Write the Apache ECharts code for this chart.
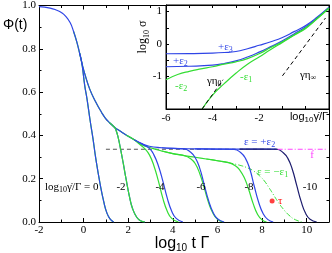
<!DOCTYPE html>
<html><head><meta charset="utf-8">
<script src="https://cdn.jsdelivr.net/npm/echarts@6/dist/echarts.min.js"></script>
<style>html,body{margin:0;padding:0;background:#fff}#c{width:332px;height:253px}</style>
</head><body><div id="c"></div>
<script>
// ---------- main panel data: [log10 tΓ, Φ(t)] ----------
const shortTime = [[-2,0.995],[-1.5,0.988],[-1.2,0.978],[-1,0.968],[-0.8,0.95],[-0.6,0.92],[-0.45,0.88],[-0.3,0.83],[-0.18,0.78],[-0.08,0.735]];
const upperBranch = [[0.05,0.685],[0.27,0.615],[0.55,0.553],[0.8,0.507],[0.98,0.479],[1.16,0.459],[1.38,0.438],[1.65,0.419],[1.92,0.401],[2.27,0.38]];
const glassPlateau = [[2.6,0.362],[2.94,0.35],[3.5,0.343],[4.0,0.34],[5.0,0.338],[6.0,0.337],[7.0,0.337],[8.0,0.337],[8.65,0.337]];
const liquidPlateau = [[2.6,0.357],[3.0,0.343],[3.5,0.328],[4.0,0.316],[4.5,0.307],[5.0,0.299],[5.5,0.291],[6.0,0.283],[6.5,0.274]];
const liquidAlpha = [[6.5,0.274],[7.0,0.262],[7.3,0.252],[7.6,0.237],[7.9,0.212],[8.1,0.19],[8.3,0.16],[8.5,0.128],[8.7,0.095],[8.95,0.06],[9.2,0.032],[9.5,0.01],[9.8,0.0]];
const drop0 = [[0.05,0.63],[0.15,0.57],[0.29,0.47],[0.42,0.385],[0.55,0.29],[0.74,0.175],[0.9,0.095],[1.05,0.04],[1.2,0.012],[1.35,0.0]];
const drop2 = [[1.45,0.425],[1.55,0.39],[1.65,0.34],[1.77,0.275],[1.9,0.2],[2.05,0.12],[2.2,0.06],[2.38,0.022],[2.55,0.006],[2.75,0.0]];
const dropBlue4 = [[2.7,0.356],[2.95,0.34],[3.15,0.31],[3.35,0.26],[3.55,0.19],[3.75,0.11],[3.95,0.05],[4.15,0.017],[4.45,0.0]];
const dropGreen4 = [[2.5,0.36],[2.75,0.338],[2.95,0.31],[3.15,0.26],[3.35,0.19],[3.55,0.11],[3.75,0.05],[3.95,0.017],[4.25,0.0]];
const dropBlue6 = [[4.5,0.338],[4.8,0.322],[5.0,0.298],[5.2,0.25],[5.4,0.175],[5.6,0.1],[5.8,0.045],[6.0,0.015],[6.3,0.0]];
const dropGreen6 = [[4.5,0.307],[4.8,0.292],[5.0,0.27],[5.2,0.225],[5.4,0.16],[5.6,0.09],[5.8,0.04],[6.0,0.012],[6.25,0.0]];
const dropBlue8 = [[6.75,0.335],[7.05,0.32],[7.25,0.295],[7.45,0.245],[7.65,0.165],[7.85,0.09],[8.05,0.038],[8.25,0.012],[8.5,0.0]];
const dropGreen8 = [[6.5,0.274],[6.8,0.26],[7.0,0.24],[7.2,0.205],[7.4,0.15],[7.6,0.085],[7.8,0.035],[8.0,0.01],[8.2,0.0]];
const dropBlue10 = [[8.65,0.336],[8.95,0.32],[9.15,0.295],[9.35,0.245],[9.55,0.17],[9.75,0.095],[9.95,0.04],[10.15,0.013],[10.45,0.0]];
const plateauF = [[1.0,0.336],[8.7,0.336]];
const plateauFext = [[8.7,0.336],[10.9,0.336]];
const tauPoint = [[8.45,0.097]];

// ---------- inset data: [log10 γ̇/Γ, log10 σ] ----------
const insetEps3 = [[-6,-0.3],[-5,-0.295],[-4,-0.28],[-3.5,-0.262],[-3,-0.23],[-2.5,-0.145],[-2,-0.04],[-1.5,0.07],[-1,0.2],[-0.5,0.38],[0,0.57],[0.5,0.83],[1,1.13]];
const insetEps2 = [[-6,-0.7],[-5,-0.685],[-4,-0.65],[-3.5,-0.6],[-3,-0.52],[-2.5,-0.4],[-2,-0.25],[-1.5,-0.08],[-1,0.1],[-0.5,0.31],[0,0.53],[0.5,0.81],[1,1.12]];
const insetMinusEps2 = [[-6,-1.1],[-5.5,-0.94],[-5,-0.84],[-4.5,-0.765],[-4,-0.7],[-3.5,-0.62],[-3,-0.55],[-2.5,-0.45],[-2,-0.3],[-1.5,-0.11],[-1,0.07],[-0.5,0.28],[0,0.5],[0.5,0.79],[1,1.11]];
const insetMinusEps1 = [[-4.45,-2.0],[-4,-1.57],[-3.5,-1.22],[-3,-0.9],[-2.5,-0.62],[-2,-0.4],[-1.5,-0.17],[-1,0.05],[-0.5,0.27],[0,0.48],[0.5,0.78],[1,1.1]];
const insetEta0 = [[-4.45,-2.0],[-3.55,-1.1]];
const insetEtaInf = [[-1.0,-0.98],[0.85,0.8]];

// ---------- build ----------
const BLUE = '#2f45e6', GREEN = '#33dd33', NAVY = '#1c1c6e', MAGENTA = '#ff44ff', RED = '#ff1010';
const glassBase = shortTime.concat(upperBranch, glassPlateau);
const liquidBase = shortTime.concat(upperBranch, liquidPlateau);
function build(base, drop){
  const before = base.filter(p => p[0] < drop[0][0]);
  return before.slice(-2).concat(drop);
}
function ln(data, color, extra){
  return Object.assign({type:'line', data, symbol:'none', showSymbol:false, smooth:0.5,
    silent:true, animation:false, lineStyle:{color, width:1.2}}, extra||{});
}
const inset = {xAxisIndex:2, yAxisIndex:2};
const dashed = c => ({smooth:false, lineStyle:{color:c, width:1, type:[4,3]}});
const series = [
  ln(plateauF, '#555', dashed('#555')),
  ln(liquidAlpha, GREEN, {lineStyle:{color:GREEN, width:1, type:[5,2,1,2]}}),
  ln(build(liquidBase, drop0), GREEN),
  ln(liquidBase.filter(p => p[0] > -0.5), GREEN),
  ln(glassBase, BLUE),
  ln(build(glassBase, drop0), BLUE),
  ln(build(glassBase, drop2), BLUE),
  ln(build(liquidBase, drop2), GREEN),
  ln(build(liquidBase, dropGreen4), GREEN),
  ln(build(glassBase, dropBlue4), BLUE),
  ln(build(liquidBase, dropGreen6), GREEN),
  ln(build(glassBase, dropBlue6), BLUE),
  ln(build(liquidBase, dropGreen8), GREEN),
  ln(build(glassBase, dropBlue8), BLUE),
  ln(build(glassBase, dropBlue10), NAVY),
  ln(plateauFext, MAGENTA, {smooth:false, lineStyle:{color:MAGENTA, width:1, type:[5,2,1,2]}}),
  {type:'scatter', data:tauPoint, symbolSize:5, itemStyle:{color:RED}, silent:true, animation:false},
  ln(insetEps3, BLUE, inset),
  ln(insetEps2, BLUE, inset),
  ln(insetMinusEps2, GREEN, inset),
  ln(insetMinusEps1, GREEN, inset),
  ln(insetEta0, '#000', Object.assign(dashed('#000'), inset)),
  ln(insetEtaInf, '#000', Object.assign(dashed('#000'), inset))
];

const SERIF = 'Liberation Serif';
function axis(o){
  return Object.assign({type:'value', axisLine:{show:true, onZero:false, lineStyle:{color:'#000', width:1}},
    axisTick:{show:true, inside:true, length:4, lineStyle:{color:'#000'}},
    splitLine:{show:false},
    axisLabel:{show:false}}, o);
}
const lab = (fmt, margin) => ({show:true, fontFamily:SERIF, fontSize:11, color:'#000', margin, formatter:fmt, showMaxLabel:true, showMinLabel:true});
const minor = {show:true, splitNumber:2, length:2.5, lineStyle:{color:'#000'}};
const insetTick = {show:true, inside:true, length:3, lineStyle:{color:'#000'}};

const option = {
  animation:false,
  backgroundColor:'#fff',
  grid:[
    {left:39, right:1, top:5, bottom:31},
    {left:166, right:1, top:5, bottom:144, show:true, backgroundColor:'#fff', borderColor:'#000', borderWidth:1, z:3}
  ],
  xAxis:[
    axis({gridIndex:0, min:-2, max:11, interval:2, position:'bottom', minorTick:minor,
      axisLabel:lab(v => v > 10 ? '' : String(v), 3)}),
    axis({gridIndex:0, min:-2, max:11, interval:2, position:'top', minorTick:minor}),
    axis({gridIndex:1, min:-6, max:1, interval:1, position:'bottom', z:4, axisTick:insetTick,
      axisLabel:lab(v => (v === -6 || v === -4 || v === -2) ? String(v) : '', 4)}),
    axis({gridIndex:1, min:-6, max:1, interval:1, position:'top', z:4, axisTick:insetTick})
  ],
  yAxis:[
    axis({gridIndex:0, min:0, max:1, interval:0.2, position:'left', minorTick:minor,
      axisLabel:lab(v => v.toFixed(1), 3)}),
    axis({gridIndex:0, min:0, max:1, interval:0.2, position:'right', minorTick:minor}),
    axis({gridIndex:1, min:-2, max:1.2, interval:0.5, position:'left', z:4, axisTick:insetTick,
      axisLabel:lab(v => (Number.isInteger(v) && v > -2) ? String(v) : '', 4)}),
    axis({gridIndex:1, min:-2, max:1.2, interval:0.5, position:'right', z:4, axisTick:insetTick})
  ],
  series:series.map(s => Object.assign(s, {z: s.xAxisIndex === 2 ? 5 : 2})),
  graphic:[]
};

const sub = (fs, lh) => ({fontSize:fs, lineHeight:lh, verticalAlign:'bottom'});
function txt(x, y, text, rich, color, align, extra){
  return Object.assign({type:'text', x, y, z:10, silent:true,
    style:{text, rich, fill:color||'#000', align:align||'left', verticalAlign:'middle'}}, extra||{});
}
const serifRich = {a:{fontFamily:SERIF, fontSize:11, lineHeight:14}, s:Object.assign({fontFamily:SERIF}, sub(8,9))};
const serifRich12 = {a:{fontFamily:SERIF, fontSize:12, lineHeight:15}, s:Object.assign({fontFamily:SERIF}, sub(8,9))};
const sansRich = {a:{fontFamily:'Liberation Sans', fontSize:11, lineHeight:14}, s:Object.assign({fontFamily:'Liberation Sans'}, sub(8,9))};
const bigRich = {a:{fontFamily:'Liberation Sans', fontSize:16, lineHeight:19}, s:Object.assign({fontFamily:'Liberation Sans'}, sub(10,11))};

option.graphic = [
  txt(3, 25, '{a|Φ(t)}', {a:{fontFamily:'Liberation Sans', fontSize:14}}),
  txt(182, 244, '{a|log}{s|10}{a| t Γ}', bigRich, '#000', 'center'),
  txt(143, 37, '{a|log}{s|10}{a| σ}', serifRich12, '#000', 'center', {rotation:Math.PI/2}),
  txt(309, 117, '{a|log}{s|10}{a|γ̇/Γ}', sansRich, '#000', 'center'),
  txt(218, 47, '{a|+ε}{s|3}', serifRich, BLUE),
  txt(173, 61, '{a|+ε}{s|2}', serifRich, BLUE),
  txt(175, 86, '{a|-ε}{s|2}', serifRich, GREEN),
  txt(240, 77, '{a|-ε}{s|1}', serifRich, GREEN),
  txt(207, 81, '{a|γη}{s|0}', serifRich, '#000'),
  txt(300, 75, '{a|γη}{s|∞}', serifRich, '#000'),
  txt(45, 187, '{a|log}{s|10}{a|γ̇/Γ = 0}', serifRich, '#000'),
  txt(121, 187, '{a|-2}', serifRich, '#000', 'center'),
  txt(160, 187, '{a|-4}', serifRich, '#000', 'center'),
  txt(201, 187, '{a|-6}', serifRich, '#000', 'center'),
  txt(249, 187, '{a|-8}', serifRich, '#000', 'center'),
  txt(310, 187, '{a|-10}', serifRich, '#000', 'center'),
  txt(244, 142, '{a|ε = +ε}{s|2}', serifRich, BLUE),
  txt(312, 155, '{a|f}', serifRich, MAGENTA, 'center'),
  txt(257, 172, '{a|ε = −ε}{s|1}', serifRich, GREEN),
  txt(278, 201, '{a|τ}', serifRich, RED)
];

const chart = echarts.init(document.getElementById('c'), null, {renderer:'canvas'});
chart.setOption(option);
</script></body></html>
